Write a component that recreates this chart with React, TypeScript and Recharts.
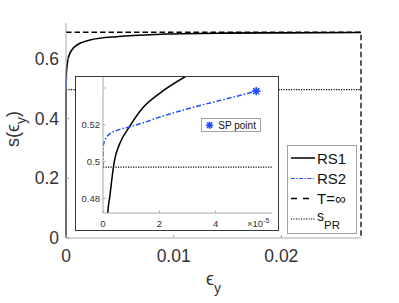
import React from 'react';
import { ComposedChart, Line, Scatter, XAxis, YAxis, Legend } from 'recharts';

const FONT = '"Liberation Sans", Arial, Helvetica, sans-serif';
const AXIS = '#a8a8a8';
const TXT = '#333333';
const BLUE = '#1f4fff';

// RS1 curve (epsilon_y, s)
const rs1Eps = [0, 0.15e-5, 0.25e-5, 0.4e-5, 0.6e-5, 0.9e-5, 1.4e-5, 2.0e-5, 2.9e-5, 4e-5, 6e-5, 1e-4, 1.6e-4, 3.7e-4, 6.8e-4, 1.3e-3, 2.23e-3, 3.16e-3, 4.7e-3, 6.3e-3, 9.4e-3, 1.5e-2, 2.0e-2, 2.74e-2];
const rs1S = [0, 0.468, 0.482, 0.5, 0.51, 0.518, 0.529, 0.537, 0.546, 0.554, 0.563, 0.578, 0.594, 0.619, 0.636, 0.652, 0.663, 0.669, 0.674, 0.678, 0.683, 0.686, 0.687, 0.688];

// RS2 curve
const rs2Eps = [0, 0.005e-5, 0.012e-5, 0.13e-5, 0.25e-5, 0.48e-5, 0.9e-5, 1.43e-5, 2.02e-5, 3.2e-5, 4.38e-5, 5.44e-5];
const rs2S = [0.497, 0.505, 0.509, 0.5133, 0.5152, 0.5169, 0.5187, 0.5211, 0.5242, 0.5295, 0.5341, 0.5383];

// T = infinity
const tInfEps = [0, 0.0274, 0.0274];
const tInfS = [0.689, 0.689, 0];

// s_PR
const sPRValue = 0.497;
const mainEpsRange = [0, 0.0274];
const insetEpsRange = [0, 6e-5];

// SP point
const spEps = [5.44e-5];
const spS = [0.5383];

// ticks
const mainXTicks = [0, 0.01, 0.02];
const mainXTickLabels = ['0', '0.01', '0.02'];
const mainYTicks = [0, 0.2, 0.4, 0.6];
const mainYTickLabels = ['0', '0.2', '0.4', '0.6'];
const insetXTicks = [0, 2e-5, 4e-5];
const insetXTickLabels = ['0', '2', '4'];
const insetYTicks = [0.48, 0.5, 0.52, 0.54];
const insetYTickLabels = ['0.48', '0.5', '0.52', ''];
const mainYDomain = [0, 0.72];
const insetYDomain = [0.472, 0.546];

const zip = (es: number[], ss: number[]) => es.map((e, i) => ({ e, s: ss[i] }));
const rs1Data = zip(rs1Eps, rs1S);
const rs2Data = zip(rs2Eps, rs2S);
const tInfData = zip(tInfEps, tInfS);
const mainSPR = zip(mainEpsRange, [sPRValue, sPRValue]);
const insetSPR = zip(insetEpsRange, [sPRValue, sPRValue]);
const spData = zip(spEps, spS);

const labelOf = (ticks: number[], labels: string[], v: number) => {
  const i = ticks.findIndex((t) => Math.abs(t - v) < 1e-12);
  return i >= 0 ? labels[i] : String(v);
};

const MainXTick = ({ x, y, payload }: any) => (
  <g>
    <line x1={x} y1={y} x2={x} y2={y - 3} stroke={AXIS} />
    <text x={x} y={y + 24} textAnchor="middle" fontSize={17.5} fill={TXT} fontFamily={FONT}>
      {labelOf(mainXTicks, mainXTickLabels, payload.value)}
    </text>
  </g>
);

const MainYTick = ({ x, y, payload }: any) => (
  <g>
    <line x1={x} y1={y} x2={x + 3} y2={y} stroke={AXIS} />
    <text x={x - 7} y={y + 6} textAnchor="end" fontSize={17.5} fill={TXT} fontFamily={FONT}>
      {labelOf(mainYTicks, mainYTickLabels, payload.value)}
    </text>
  </g>
);

const InsetXTick = ({ x, y, payload }: any) => (
  <g>
    <line x1={x} y1={y} x2={x} y2={y - 2.5} stroke={AXIS} />
    <text x={x} y={y + 13.5} textAnchor="middle" fontSize={9.5} fill={TXT} fontFamily={FONT}>
      {labelOf(insetXTicks, insetXTickLabels, payload.value)}
    </text>
  </g>
);

const InsetYTick = ({ x, y, payload }: any) => (
  <g>
    <line x1={x} y1={y} x2={x + 2.5} y2={y} stroke={AXIS} />
    <text x={x - 3} y={y + 3.3} textAnchor="end" fontSize={9.5} fill={TXT} fontFamily={FONT}>
      {labelOf(insetYTicks, insetYTickLabels, payload.value)}
    </text>
  </g>
);

const MainXLabel = () => (
  <text x={213.5} y={285} textAnchor="middle" fontSize={18} fill={TXT} fontFamily={FONT}>
    ϵ<tspan dy={8} fontSize={14}>y</tspan>
  </text>
);

const MainYLabel = () => (
  <text x={19} y={129} transform="rotate(-90, 19, 129)" textAnchor="middle" fontSize={18} fill={TXT} fontFamily={FONT}>
    s(ϵ<tspan dy={7} fontSize={14}>y</tspan><tspan dy={-7}>)</tspan>
  </text>
);

const InsetXExp = () => (
  <text x={172} y={150.5} fontSize={9.5} fill={TXT} fontFamily={FONT}>
    ×10<tspan dy={-4} fontSize={7}>-5</tspan>
  </text>
);

const Asterisk = ({ cx, cy, rad }: any) => {
  const r = rad ?? 3.6;
  const d = r * 0.72;
  return (
    <g stroke={BLUE} strokeWidth={1.6} strokeLinecap="round">
      <line x1={cx - r} y1={cy} x2={cx + r} y2={cy} />
      <line x1={cx} y1={cy - r} x2={cx} y2={cy + r} />
      <line x1={cx - d} y1={cy - d} x2={cx + d} y2={cy + d} />
      <line x1={cx - d} y1={cy + d} x2={cx + d} y2={cy - d} />
    </g>
  );
};

const legendRows = [
  { key: 'RS1', cy: 13, stroke: '#000', dash: undefined as string | undefined, w: 1.5 },
  { key: 'RS2', cy: 33.5, stroke: BLUE, dash: '4 1.5 1.2 1.5', w: 1.2 },
  { key: 'T=∞', cy: 53.5, stroke: '#000', dash: '6 6', w: 1.3 },
  { key: 'sPR', cy: 74, stroke: '#000', dash: '1.2 1.3', w: 1.2 },
];

const MainLegendBox = () => (
  <svg width={70} height={89} style={{ display: 'block' }}>
    <rect x={0.5} y={0.5} width={69} height={88} fill="#fff" stroke="#a0a0a0" strokeWidth={1} />
    {legendRows.map((r) => (
      <g key={r.key}>
        <line x1={4} y1={r.cy} x2={28} y2={r.cy} stroke={r.stroke} strokeWidth={r.w} strokeDasharray={r.dash} />
        {r.key === 'sPR' ? (
          <text x={30} y={r.cy + 1.5} fontSize={14} fill="#111" fontFamily={FONT}>
            s<tspan dy={8.5} fontSize={11.5}>PR</tspan>
          </text>
        ) : (
          <text x={30} y={r.cy + 5.5} fontSize={15} fill="#111" fontFamily={FONT}>
            {r.key}
          </text>
        )}
      </g>
    ))}
  </svg>
);

const InsetLegendBox = () => (
  <svg width={60} height={14} style={{ display: 'block' }}>
    <rect x={0.5} y={0.5} width={59} height={13} fill="#fff" stroke="#a0a0a0" strokeWidth={1} />
    <Asterisk cx={8.6} cy={7.2} rad={3} />
    <text x={17.3} y={10.8} fontSize={10} fill="#111" fontFamily={FONT}>
      SP point
    </text>
  </svg>
);

export default function App() {
  return (
    <div style={{ position: 'absolute', left: 0, top: 0, width: 399, height: 303, background: '#fff', fontFamily: FONT }}>
      <ComposedChart width={399} height={303} margin={{ top: 23, right: 38, bottom: 35, left: 26 }}>
        <XAxis
          type="number"
          dataKey="e"
          domain={mainEpsRange}
          ticks={mainXTicks}
          interval={0}
          tick={MainXTick}
          tickSize={0}
          tickMargin={0}
          tickLine={false}
          height={30}
          axisLine={{ stroke: AXIS }}
          label={<MainXLabel />}
        />
        <YAxis
          type="number"
          dataKey="s"
          domain={mainYDomain}
          ticks={mainYTicks}
          interval={0}
          tick={MainYTick}
          tickSize={0}
          tickMargin={0}
          tickLine={false}
          width={40}
          axisLine={{ stroke: AXIS }}
          label={<MainYLabel />}
        />
        <Line data={mainSPR} dataKey="s" stroke="#000" strokeWidth={1.2} strokeDasharray="1.2 1.3" dot={false} isAnimationActive={false} />
        <Line data={tInfData} dataKey="s" stroke="#000" strokeWidth={1.3} strokeDasharray="5.5 3" dot={false} isAnimationActive={false} />
        <Line type="monotone" data={rs1Data} dataKey="s" stroke="#000" strokeWidth={1.6} dot={false} isAnimationActive={false} />
        <Line type="monotone" data={rs2Data} dataKey="s" stroke={BLUE} strokeWidth={1.6} dot={false} isAnimationActive={false} />
        <Legend
          layout="vertical"
          align="center"
          verticalAlign="middle"
          content={() => <MainLegendBox />}
          wrapperStyle={{ left: 287, top: 145, width: 70, height: 89 }}
        />
      </ComposedChart>

      <div
        style={{
          position: 'absolute',
          left: 75,
          top: 76,
          width: 204,
          height: 155,
          border: '1.5px solid #3a3a3a',
          background: '#fff',
          boxSizing: 'border-box',
        }}
      />
      <div style={{ position: 'absolute', left: 75, top: 76, width: 204, height: 155 }}>
        <ComposedChart width={204} height={155} margin={{ top: 1, right: 7, bottom: 8, left: 8 }}>
          <XAxis
            type="number"
            dataKey="e"
            domain={insetEpsRange}
            allowDataOverflow
            ticks={insetXTicks}
            interval={0}
            tick={InsetXTick}
            tickSize={0}
            tickMargin={0}
            tickLine={false}
            height={10}
            axisLine={{ stroke: AXIS }}
            label={<InsetXExp />}
          />
          <YAxis
            type="number"
            dataKey="s"
            domain={insetYDomain}
            allowDataOverflow
            ticks={insetYTicks}
            interval={0}
            tick={InsetYTick}
            tickSize={0}
            tickMargin={0}
            tickLine={false}
            width={20}
            axisLine={{ stroke: AXIS }}
          />
          <Line data={insetSPR} dataKey="s" stroke="#000" strokeWidth={1.2} strokeDasharray="1.2 1.3" dot={false} isAnimationActive={false} />
          <Line type="monotone" data={rs1Data} dataKey="s" stroke="#000" strokeWidth={1.5} dot={false} isAnimationActive={false} />
          <Line type="monotone" data={rs2Data} dataKey="s" stroke={BLUE} strokeWidth={1.5} strokeDasharray="5 2 1.5 2" dot={false} isAnimationActive={false} />
          <Scatter data={spData} dataKey="s" shape={(p: any) => <Asterisk cx={p.cx} cy={p.cy} rad={3.6} />} isAnimationActive={false} />
          <Legend
            layout="vertical"
            align="center"
            verticalAlign="middle"
            content={() => <InsetLegendBox />}
            wrapperStyle={{ left: 125.7, top: 42.3, width: 60, height: 14 }}
          />
        </ComposedChart>
      </div>
    </div>
  );
}
